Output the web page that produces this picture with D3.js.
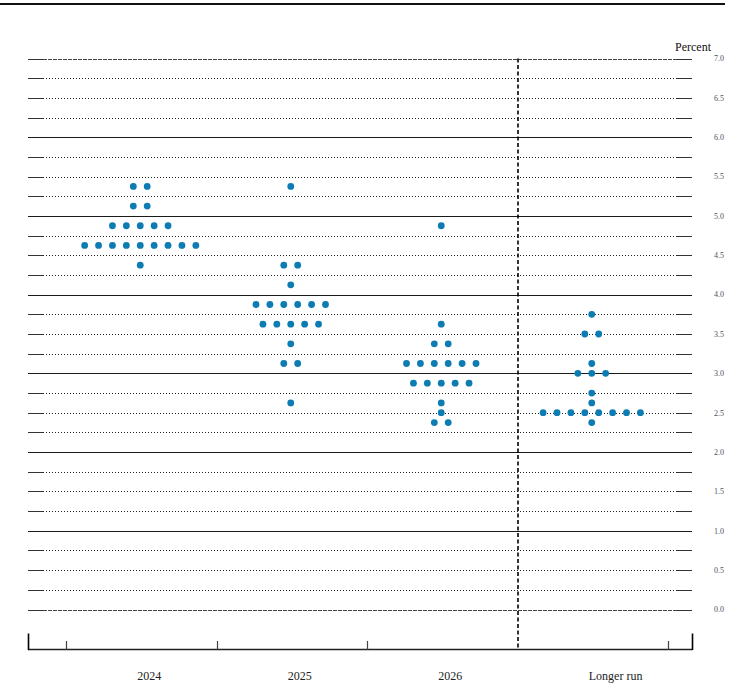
<!DOCTYPE html>
<html>
<head>
<meta charset="utf-8">
<script src="https://cdn.jsdelivr.net/npm/d3@7"></script>
<style>
  html, body { margin: 0; padding: 0; background: #fff; }
  svg { display: block; }
  text { font-family: "Liberation Serif", "Times New Roman", serif; }
</style>
</head>
<body>
<svg id="chart" width="748" height="697"></svg>
<script>
// ---- data ----
const categories = ["2024", "2025", "2026", "Longer run"];
// [midpoint of target range (percent), number of participants]
const dots2024 = [[5.375, 2], [5.125, 2], [4.875, 5], [4.625, 9], [4.375, 1]];
const dots2025 = [[5.375, 1], [4.375, 2], [4.125, 1], [3.875, 6], [3.625, 5], [3.375, 1], [3.125, 2], [2.625, 1]];
const dots2026 = [[4.875, 1], [3.625, 1], [3.375, 2], [3.125, 6], [2.875, 5], [2.625, 1], [2.5, 1], [2.375, 2]];
const dotsLonger = [[3.75, 1], [3.5, 2], [3.125, 1], [3.0, 3], [2.75, 1], [2.625, 1], [2.5, 8], [2.375, 1]];
const yTickLabels = ["0.0","0.5","1.0","1.5","2.0","2.5","3.0","3.5","4.0","4.5","5.0","5.5","6.0","6.5","7.0"];
const unitLabel = "Percent";

const seriesByCategory = [dots2024, dots2025, dots2026, dotsLonger];

// ---- layout ----
const svg = d3.select("#chart");
const left = 28, right = 692;
const x = d3.scaleBand().domain(categories).range([66, 668]).padding(0);
const y = d3.scaleLinear().domain([0, 7]).range([609.5, 58.5]);
const axisY = 649.5;
const dotStep = 13.9;
const dotColor = "#0d7cb2";
const crisp = v => Math.round(v) + 0.5;

// top rule
svg.append("line")
  .attr("x1", 0).attr("x2", 725).attr("y1", 4).attr("y2", 4)
  .attr("stroke", "#111").attr("stroke-width", 2);

// grid lines every 0.25
const gridVals = d3.range(0, 7.0001, 0.25);
const grid = svg.append("g");
gridVals.forEach(v => {
  const yy = crisp(y(v));
  const isWhole = Math.abs(v - Math.round(v)) < 1e-9;
  if (isWhole && v > 0 && v < 7) {
    grid.append("line").attr("x1", left).attr("x2", right).attr("y1", yy).attr("y2", yy)
      .attr("stroke", "#1a1a1a").attr("stroke-width", 1);
  } else {
    grid.append("line").attr("x1", left).attr("x2", left + 15).attr("y1", yy).attr("y2", yy)
      .attr("stroke", "#333").attr("stroke-width", 1);
    grid.append("line").attr("x1", right - 15).attr("x2", right).attr("y1", yy).attr("y2", yy)
      .attr("stroke", "#333").attr("stroke-width", 1);
    grid.append("line").attr("x1", left + 15).attr("x2", right - 15).attr("y1", yy).attr("y2", yy)
      .attr("stroke", isWhole ? "#444" : "#222").attr("stroke-width", 1)
      .attr("stroke-dasharray", isWhole ? "4,1" : "1,2");
  }
});

// right tick labels
svg.append("g").selectAll("text")
  .data(yTickLabels)
  .join("text")
  .attr("x", 714)
  .attr("y", d => y(+d))
  .attr("dy", "0.35em")
  .attr("font-size", 8)
  .attr("fill", "#4a5260")
  .text(d => d);

svg.append("text")
  .attr("x", 711).attr("y", 51)
  .attr("text-anchor", "end")
  .attr("font-size", 12)
  .attr("fill", "#111")
  .text(unitLabel);

// vertical dashed separator before "Longer run"
svg.append("line")
  .attr("x1", x("Longer run") + 0.5).attr("x2", x("Longer run") + 0.5)
  .attr("y1", y(7)).attr("y2", axisY)
  .attr("stroke", "#000").attr("stroke-width", 1.6)
  .attr("stroke-dasharray", "4,2.5");

// bottom axis
const ax = svg.append("g");
ax.append("line").attr("x1", left).attr("x2", right).attr("y1", axisY).attr("y2", axisY)
  .attr("stroke", "#222").attr("stroke-width", 1.3);
const tickXs = categories.map(c => x(c)).concat([x(categories[categories.length - 1]) + x.bandwidth()]);
tickXs.forEach((tx, i) => {
  if (categories[i] === "Longer run") return;
  ax.append("line").attr("x1", Math.round(tx) + 0.5).attr("x2", Math.round(tx) + 0.5)
    .attr("y1", 641).attr("y2", axisY)
    .attr("stroke", "#444").attr("stroke-width", 1.2);
});
[left, right].forEach(tx => {
  ax.append("line").attr("x1", tx + 0.5).attr("x2", tx + 0.5)
    .attr("y1", 633.5).attr("y2", axisY + 0.6)
    .attr("stroke", "#000").attr("stroke-width", 1.6);
});

// category labels
svg.append("g").selectAll("text")
  .data(categories)
  .join("text")
  .attr("x", d => x(d) + x.bandwidth() / 2 - 4)
  .attr("y", 680)
  .attr("font-size", 12)
  .attr("fill", "#222")
  .text(d => d);

// dots
const dotData = [];
seriesByCategory.forEach((rows, ci) => {
  const cx0 = x(categories[ci]) + x.bandwidth() / 2 - 1;
  rows.forEach(([rate, count]) => {
    for (let k = 0; k < count; k++) {
      dotData.push({ cx: cx0 + (k - (count - 1) / 2) * dotStep, rate });
    }
  });
});
svg.append("g").selectAll("circle")
  .data(dotData)
  .join("circle")
  .attr("cx", d => d.cx)
  .attr("cy", d => y(d.rate))
  .attr("r", 3.4)
  .attr("fill", dotColor);
</script>
</body>
</html>
